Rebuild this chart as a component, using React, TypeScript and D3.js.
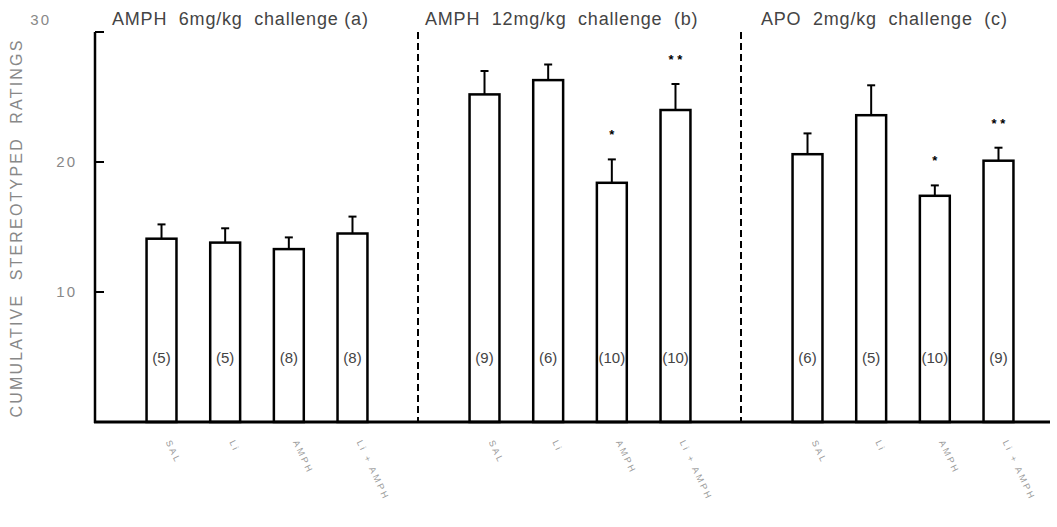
import React from "react";
import * as d3 from "d3";

const groups = ["a", "b", "c"];
const titles = ["AMPH  6mg/kg  challenge (a)", "AMPH  12mg/kg  challenge  (b)", "APO  2mg/kg  challenge  (c)"];
const treatments = ["SAL", "Li", "AMPH", "Li + AMPH"];
const means = [
  [14.1, 13.8, 13.3, 14.5],
  [25.2, 26.3, 18.4, 24.0],
  [20.6, 23.6, 17.4, 20.1],
];
const errs = [
  [1.1, 1.1, 0.9, 1.3],
  [1.8, 1.2, 1.8, 2.0],
  [1.6, 2.3, 0.8, 1.0],
];
const nLabels = [
  ["(5)", "(5)", "(8)", "(8)"],
  ["(9)", "(6)", "(10)", "(10)"],
  ["(6)", "(5)", "(10)", "(9)"],
];
const stars = [
  ["", "", "", ""],
  ["", "", "*", "* *"],
  ["", "", "*", "* *"],
];
const yTicks = [10, 20, 30];

const W = 1057;
const H = 527;
const x0 = 95;
const base = 422;

export default function App() {
  const y = d3.scaleLinear().domain([0, 30]).range([base, 32]);
  const gx = d3.scaleBand().domain(groups).range([x0, x0 + 3 * 323]).padding(0);
  const bx = d3.scaleBand().domain(treatments).range([35, 289]).paddingInner(0.53).paddingOuter(0.26);
  const font = "'Liberation Sans', Arial, sans-serif";

  return (
    <div style={{ position: "absolute", left: 0, top: 0 }}>
      <svg width={W} height={H} style={{ display: "block", background: "#fff" }}>
        {/* y axis label */}
        <text
          transform={`translate(22,228) rotate(-90)`}
          textAnchor="middle"
          fontFamily={font}
          fontSize={16}
          letterSpacing={2.2}
          fill="#888"
          style={{ whiteSpace: "pre" }}
        >
          CUMULATIVE  STEREOTYPED  RATINGS
        </text>
        {/* axes */}
        <line x1={x0} x2={x0} y1={y(30)} y2={base + 1} stroke="#000" strokeWidth={2.5} />
        <line x1={x0 - 1} x2={1050} y1={base} y2={base} stroke="#000" strokeWidth={3} />
        {yTicks.map((t) => (
          <g key={t}>
            <line x1={x0} x2={x0 + 9} y1={y(t)} y2={y(t)} stroke="#000" strokeWidth={2} />
            <text
              x={t === 30 ? 51 : 77}
              y={t === 30 ? y(t) - 7 : y(t) + 5}
              textAnchor="end"
              fontFamily={font}
              fontSize={15}
              letterSpacing={2}
              fill="#888"
            >
              {t}
            </text>
          </g>
        ))}
        {/* group separators */}
        {groups.slice(1).map((g) => (
          <line
            key={g}
            x1={gx(g)!}
            x2={gx(g)!}
            y1={y(30)}
            y2={base}
            stroke="#000"
            strokeWidth={2}
            strokeDasharray="7,4"
          />
        ))}
        {groups.map((g, gi) => {
          const gStart = gx(g)!;
          return (
            <g key={g}>
              <text
                x={gStart + (gi === 0 ? 17 : gi === 1 ? 7 : 20)}
                y={25}
                fontFamily={font}
                fontSize={18}
                letterSpacing={0.8}
                fill="#444"
                style={{ whiteSpace: "pre" }}
              >
                {titles[gi]}
              </text>
              {treatments.map((t, ti) => {
                const bxStart = gStart + bx(t)!;
                const bw = bx.bandwidth();
                const cx = bxStart + bw / 2;
                const top = y(means[gi][ti]);
                const cap = y(means[gi][ti] + errs[gi][ti]);
                return (
                  <g key={t}>
                    <rect
                      x={bxStart}
                      y={top}
                      width={bw}
                      height={base - top}
                      fill="none"
                      stroke="#000"
                      strokeWidth={2.5}
                    />
                    <line x1={cx} x2={cx} y1={top} y2={cap} stroke="#000" strokeWidth={2} />
                    <line x1={cx - 4} x2={cx + 4} y1={cap} y2={cap} stroke="#000" strokeWidth={2} />
                    {stars[gi][ti] && (
                      <text
                        x={cx}
                        y={cap - 20}
                        textAnchor="middle"
                        fontFamily={font}
                        fontSize={13}
                        fontWeight="bold"
                        fill="#000"
                        style={{ whiteSpace: "pre" }}
                      >
                        {stars[gi][ti]}
                      </text>
                    )}
                    <text
                      x={cx}
                      y={y(5) + 6}
                      textAnchor="middle"
                      fontFamily={font}
                      fontSize={15}
                      fill="#444"
                    >
                      {nLabels[gi][ti]}
                    </text>
                    <text
                      transform={`translate(${cx + 4},${base + 20}) rotate(65)`}
                      fontFamily={font}
                      fontSize={9}
                      letterSpacing={2.5}
                      fill="#999"
                      style={{ whiteSpace: "pre" }}
                    >
                      {t}
                    </text>
                  </g>
                );
              })}
            </g>
          );
        })}
      </svg>
    </div>
  );
}
